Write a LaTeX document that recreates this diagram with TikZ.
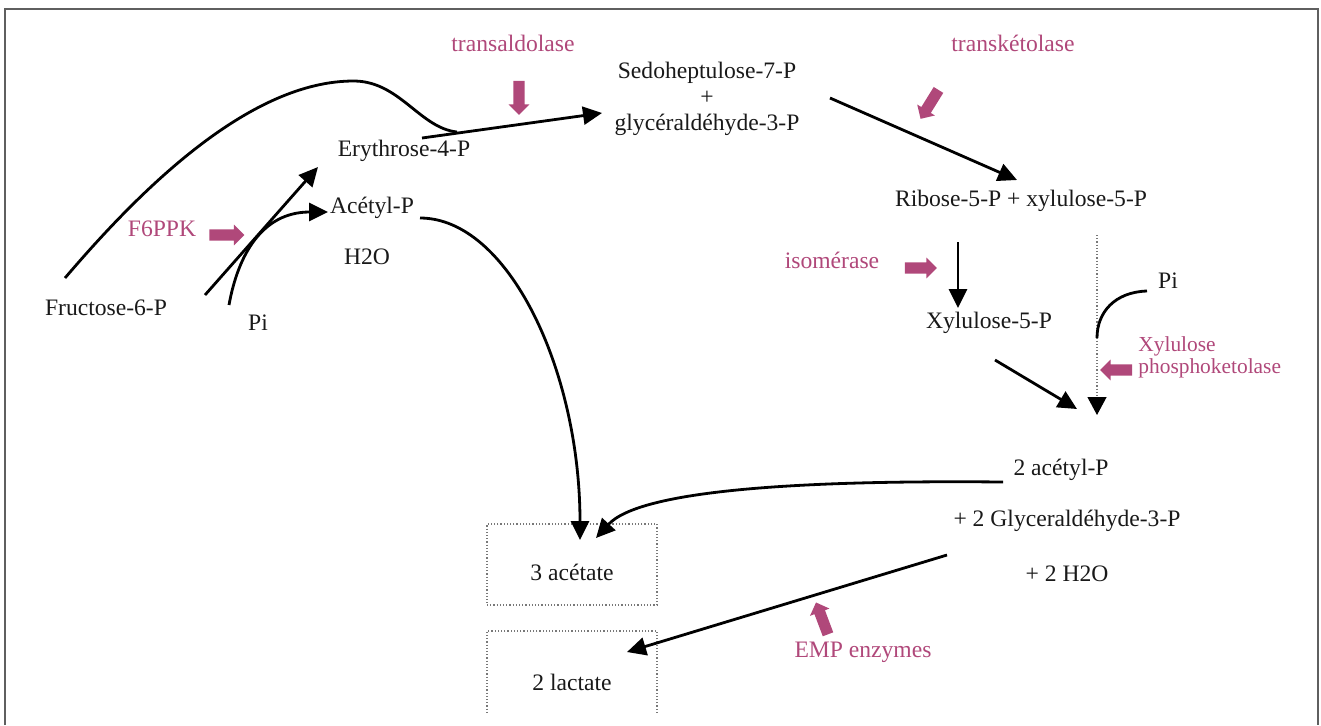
\documentclass[tikz,border=0pt]{standalone}
\usepackage{fontspec}
\setmainfont{Liberation Serif}
\usetikzlibrary{arrows.meta,shapes.arrows,calc}
\definecolor{mag}{RGB}{176,72,122}
\definecolor{txt}{RGB}{25,25,25}
\definecolor{framecol}{RGB}{95,95,95}
\definecolor{boxcol}{RGB}{120,120,120}
\begin{document}
\begin{tikzpicture}[x=0.5pt,y=-0.5pt,
  lbl/.style={text=txt,font=\fontsize{11.8}{13}\selectfont,inner sep=0pt},
  enz/.style={text=mag,font=\fontsize{11.8}{13}\selectfont,inner sep=0pt},
  enzsmall/.style={text=mag,font=\fontsize{10.7}{11}\selectfont,inner sep=0pt},
  conn/.style={draw=black,line width=1.4pt,-{Triangle[length=9.5pt,width=9pt]}},
  plainline/.style={draw=black,line width=1.4pt},
  dotconn/.style={draw=boxcol,densely dotted,line width=0.6pt,-{Triangle[length=9pt,width=9.5pt,black]}},
  blockarrow/.style={single arrow,fill=mag,draw=none,inner xsep=0pt,inner ysep=0pt,
    text height=2.6pt,text depth=2.6pt,text width=0pt,
    single arrow head extend=2.4pt,single arrow head indent=0pt},
  resultbox/.style={draw=boxcol,densely dotted,line width=0.6pt,minimum width=85pt,minimum height=40.5pt,inner sep=0pt},
]
\useasboundingbox (0,0) rectangle (1321,725);
\draw[framecol,line width=1pt] (5,725) -- (5,9) -- (1318,9) -- (1318,725);

% metabolite labels
\node[lbl,align=center] (sed) at (707,99) {Sedoheptulose-7-P\\+\\glycéraldéhyde-3-P};
\node[lbl] (ery) at (404,151) {Erythrose-4-P};
\node[lbl] (acp) at (372,208) {Acétyl-P};
\node[lbl] (h2o) at (367,257) {H2O};
\node[lbl] (fru) at (106,308) {Fructose-6-P};
\node[lbl] (pione) at (258,323) {Pi};
\node[lbl] (rib) at (1021,201) {Ribose-5-P + xylulose-5-P};
\node[lbl] (xyl) at (989,323) {Xylulose-5-P};
\node[lbl] (pitwo) at (1168,281) {Pi};
\node[lbl] (actwo) at (1061,470) {2 acétyl-P};
\node[lbl] (gltwo) at (1067,521) {+ 2 Glyceraldéhyde-3-P};
\node[lbl] (hwo) at (1067,574) {+ 2 H2O};

% result boxes
\node[resultbox,label={[lbl,yshift=-4pt]center:3 acétate}] (acet) at (572,564.5) {};
\begin{scope}
\clip (0,0) rectangle (1321,712);
\node[resultbox,minimum height=44pt,label={[lbl,yshift=-3.5pt]center:2 lactate}] (lact) at (572,675) {};
\end{scope}

% enzyme labels
\node[enz] (tald) at (513,43) {transaldolase};
\node[enz] (tket) at (1013,43) {transkétolase};
\node[enz] (fppk) at (162,229) {F6PPK};
\node[enz] (isom) at (832,260) {isomérase};
\node[enzsmall,align=left,anchor=west] (xpk) at (1138,357) {Xylulose\\phosphoketolase};
\node[enz] (emp) at (863,652) {EMP enzymes};

% enzyme block arrows
\node[blockarrow,minimum height=17pt,rotate=-90] (taldA) at (519,95) {};
\node[blockarrow,minimum height=17pt,rotate=-121.8] (tketA) at (931,102) {};
\node[blockarrow,minimum height=17.5pt] (fppkA) at (224,235) {};
\node[blockarrow,minimum height=16pt] (isomA) at (918,268) {};
\node[blockarrow,minimum height=16pt,rotate=180] (xpkA) at (1119,370) {};
\node[blockarrow,minimum height=17pt,rotate=110.6] (empA) at (823,621) {};

% connector end points
\coordinate (fruA) at (205,295);
\coordinate (eryIn) at (318,167);
\coordinate (piA) at (229,305);
\coordinate (acpIn) at (328,212);
\coordinate (fruB) at (65,278);
\coordinate (fruTop) at (355,81);
\coordinate (eryJoin) at (457,132);
\coordinate (eryOut) at (422,138);
\coordinate (sedIn) at (602,113);
\coordinate (acpOut) at (420,218);
\coordinate (acetIn) at (580,540);
\coordinate (sedOut) at (830,98);
\coordinate (ribIn) at (1017,180);
\coordinate (ribOut) at (958,242);
\coordinate (xylIn) at (958,308);
\coordinate (ribOutB) at (1097,235);
\coordinate (acIn) at (1097,415);
\coordinate (piB) at (1147,291);
\coordinate (piBend) at (1097,338);
\coordinate (xylOut) at (995,360);
\coordinate (acInB) at (1077,409);
\coordinate (acOut) at (1003,482);
\coordinate (acetInB) at (596,538);
\coordinate (glOut) at (947,555);
\coordinate (lactIn) at (627,652);

% connectors
\draw[conn] (fruA) -- (eryIn);
\draw[conn] (piA) .. controls (238,255) and (262,212) .. (acpIn);
\draw[plainline] (fruB) .. controls (140,190) and (250,80) .. (fruTop)
  .. controls (400,82) and (420,128) .. (eryJoin);
\draw[conn] (eryOut) -- (sedIn);
\draw[conn] (acpOut) .. controls (508,218) and (580,370) .. (acetIn);
\draw[conn] (sedOut) -- (ribIn);
\draw[conn] (ribOut) -- (xylIn);
\draw[dotconn] (ribOutB) -- (acIn);
\draw[plainline] (piB) .. controls (1115,292) and (1097,312) .. (piBend);
\draw[conn] (xylOut) -- (acInB);
\draw[conn] (acOut) .. controls (800,480) and (640,490) .. (acetInB);
\draw[conn] (glOut) -- (lactIn);
\end{tikzpicture}
\end{document}
